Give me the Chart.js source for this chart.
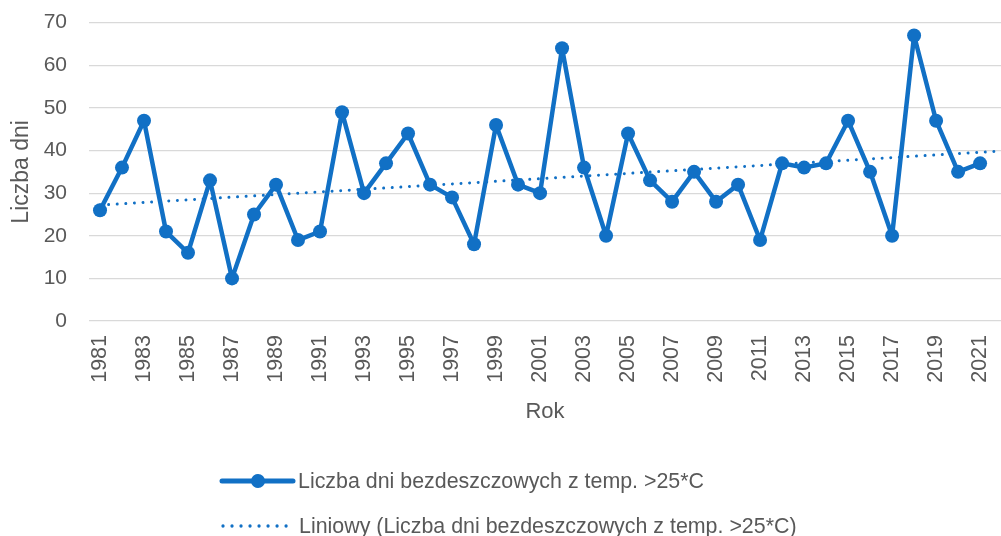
<!DOCTYPE html>
<html>
<head>
<meta charset="utf-8">
<script src="https://cdn.jsdelivr.net/npm/chart.js@4"></script>
<style>
  body { margin: 0; background: #fff; }
  #wrap { position: relative; width: 1001px; height: 536px; overflow: hidden; }
  #legend { position: absolute; left: 0; top: 0; width: 1001px; height: 536px; pointer-events: none;
    font-family: "Liberation Sans", Arial, sans-serif; font-size: 21.4px; color: #595959; }
  .item { position: absolute; display: flex; align-items: center; white-space: nowrap; }
  .item svg { display: block; }
</style>
</head>
<body>
<div id="wrap">
  <canvas id="chart" width="1001" height="536"></canvas>
  <div id="legend"></div>
</div>
<script>
// ===============================
// DATA
// ===============================

const years = [
  1981, 1982, 1983, 1984, 1985, 1986, 1987, 1988, 1989, 1990,
  1991, 1992, 1993, 1994, 1995, 1996, 1997, 1998, 1999, 2000,
  2001, 2002, 2003, 2004, 2005, 2006, 2007, 2008, 2009, 2010,
  2011, 2012, 2013, 2014, 2015, 2016, 2017, 2018, 2019, 2020, 2021
];

const dryHotDays = [
  26, 36, 47, 21, 16, 33, 10, 25, 32, 19,
  21, 49, 30, 37, 44, 32, 29, 18, 46, 32,
  30, 64, 36, 20, 44, 33, 28, 35, 28, 32,
  19, 37, 36, 37, 47, 35, 20, 67, 47, 35, 37
];

// linear trend (start and end of the dotted line)
const trendYears = [1981, 2022];
const trendValues = [27.2, 39.9];

const xTickLabels = [
  1981, 1983, 1985, 1987, 1989, 1991, 1993, 1995, 1997, 1999, 2001,
  2003, 2005, 2007, 2009, 2011, 2013, 2015, 2017, 2019, 2021
];

const yTickLabels = [0, 10, 20, 30, 40, 50, 60, 70];

const seriesName = "Liczba dni bezdeszczowych z temp. >25*C";
const trendName = "Liniowy (Liczba dni bezdeszczowych z temp. >25*C)";


// ===============================
// STYLE
// ===============================

const BLUE = "#1170C5";
const TEXT = "#595959";
const GRID = "#D9D9D9";
const FONT = "'Liberation Sans', Arial, sans-serif";


// ===============================
// PLOT AREA RUNS TO THE RIGHT EDGE
// ===============================

const fullWidthArea = {
  id: "fullWidthArea",
  afterLayout(chart) {
    const area = chart.chartArea;
    const x = chart.scales.x;
    area.right = chart.width;
    area.width = area.right - area.left;
    x.right = area.right;
    x.width = x.right - x.left;
    x.configure();
  }
};


// ===============================
// CHART
// ===============================

new Chart(document.getElementById("chart"), {
  type: "line",
  data: {
    datasets: [
      {
        label: trendName,
        data: trendYears.map((y, i) => ({ x: y, y: trendValues[i] })),
        borderColor: BLUE,
        borderWidth: 3,
        borderDash: [0.01, 8.6],
        borderCapStyle: "round",
        pointRadius: 0,
        fill: false,
        order: 0
      },
      {
        label: seriesName,
        data: years.map((y, i) => ({ x: y, y: dryHotDays[i] })),
        borderColor: BLUE,
        backgroundColor: BLUE,
        borderWidth: 4.5,
        borderJoinStyle: "round",
        pointRadius: 7,
        pointBackgroundColor: BLUE,
        pointBorderWidth: 0,
        tension: 0,
        fill: false,
        order: 1
      }
    ]
  },
  plugins: [fullWidthArea],
  options: {
    responsive: false,
    animation: false,
    layout: { padding: { top: 22.7, right: 0, bottom: 110, left: 0 } },
    plugins: {
      legend: { display: false },
      tooltip: { enabled: false }
    },
    scales: {
      x: {
        type: "linear",
        min: 1980.5,
        max: 2021.95,
        afterBuildTicks: axis => {
          axis.ticks = xTickLabels.map(v => ({ value: v }));
        },
        afterFit: axis => {
          axis.height = 105;
          axis.paddingLeft = 0;
          axis.paddingRight = 0;
        },
        grid: { display: false, drawTicks: false },
        border: { display: false },
        ticks: {
          color: TEXT,
          font: { family: FONT, size: 21.5 },
          minRotation: 90,
          maxRotation: 90,
          padding: 14,
          autoSkip: false,
          callback: v => String(v)
        },
        title: {
          display: true,
          text: "Rok",
          color: TEXT,
          font: { family: FONT, size: 22 },
          padding: { top: 0, bottom: 1 }
        }
      },
      y: {
        min: 0,
        max: 70,
        afterBuildTicks: axis => {
          axis.ticks = yTickLabels.map(v => ({ value: v }));
        },
        afterFit: axis => {
          axis.width = 89;
          axis.paddingTop = 0;
          axis.paddingBottom = 0;
        },
        grid: { color: GRID, lineWidth: 1.3, drawTicks: false },
        border: { display: false },
        ticks: {
          color: TEXT,
          font: { family: FONT, size: 21 },
          padding: 22
        },
        title: {
          display: true,
          text: "Liczba dni",
          color: TEXT,
          font: { family: FONT, size: 23 },
          padding: { top: 8, bottom: 0 }
        }
      }
    }
  }
});


// ===============================
// LEGEND
// ===============================

function renderLegend() {
  const legend = document.getElementById("legend");

  legend.innerHTML = `
    <div class="item" style="left:218px; top:467px; height:28px;">
      <svg width="80" height="28">
        <line x1="4" y1="14" x2="75" y2="14" stroke="${BLUE}" stroke-width="5" stroke-linecap="round"/>
        <circle cx="40" cy="14" r="7" fill="${BLUE}"/>
      </svg>
      <span>${seriesName}</span>
    </div>
    <div class="item" style="left:218px; top:512px; height:28px;">
      <svg width="81" height="28">
        <line x1="5" y1="14" x2="69" y2="14" stroke="${BLUE}" stroke-width="3.3"
              stroke-linecap="round" stroke-dasharray="0.01 9"/>
      </svg>
      <span>${trendName}</span>
    </div>
  `;
}

renderLegend();
</script>
</body>
</html>
